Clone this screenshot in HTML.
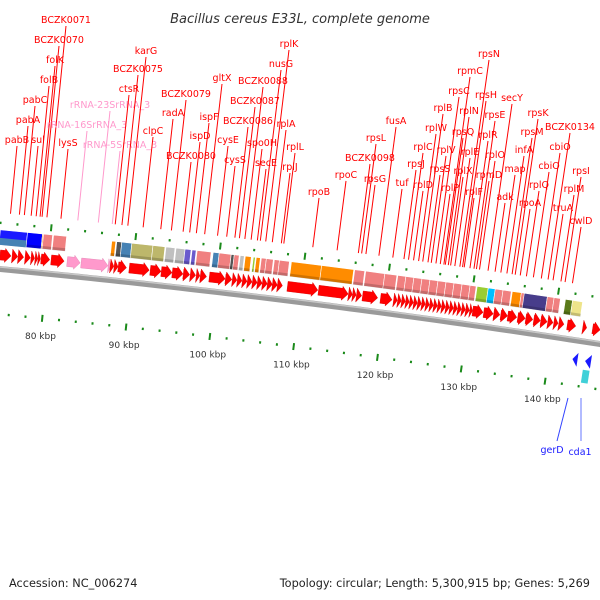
<!DOCTYPE html>
<html><head><meta charset="utf-8"><style>
html,body{margin:0;padding:0;background:#fff;}
svg{display:block;}
text{font-family:"DejaVu Sans","Liberation Sans",sans-serif;}
</style></head><body>
<svg id="map" width="600" height="600" viewBox="0 0 600 600" xmlns="http://www.w3.org/2000/svg">
<text x="300" y="23" text-anchor="middle" font-size="13" font-style="italic" fill="#333">Bacillus cereus E33L, complete genome</text>
<text x="9" y="587" font-size="11.3" fill="#222">Accession: NC_006274</text>
<text x="590" y="587" text-anchor="end" font-size="11.3" fill="#222">Topology: circular; Length: 5,300,915 bp; Genes: 5,269</text>
<g id="gBack"></g><g id="gTicks"></g><g id="gBoxes"></g><g id="gArrows"></g><g id="gRev"></g><g id="gLabels"></g>
<line x1="568" y1="398" x2="557" y2="441" stroke="#3344ff" stroke-width="1"/>
<line x1="581" y1="398" x2="581" y2="441" stroke="#6677ff" stroke-width="1"/>
<text x="552" y="453" text-anchor="middle" font-size="9.5" fill="#1a1aff">gerD</text>
<text x="580" y="455" text-anchor="middle" font-size="9.5" fill="#1a1aff">cda1</text>
</svg>
<script>
// ---- data (kbp) ----
const tickMajor = [70, 80, 90, 100, 110, 120, 130, 140];
const tickLabels = ["70 kbp","80 kbp","90 kbp","100 kbp","110 kbp","120 kbp","130 kbp","140 kbp"];
const tickMinor = [70,72,74,76,78,80,82,84,86,88,90,92,94,96,98,100,102,104,106,108,110,112,114,116,118,120,122,124,126,128,130,132,134,136,138,140,142,144,146];
const fwdStart = [74.30,75.73,76.44,77.27,77.98,78.46,78.81,79.17,80.36,82.26,83.92,87.13,87.37,87.84,88.32,89.63,92.12,93.43,94.73,96.04,96.87,97.58,98.06,99.13,101.04,101.86,102.45,103.05,103.64,104.24,104.83,105.42,106.02,106.61,107.21,108.40,112.08,115.64,116.12,116.59,117.31,119.44,120.99,121.47,121.94,122.42,122.89,123.37,123.84,124.32,124.79,125.27,125.74,126.22,126.69,127.17,127.64,128.12,128.59,129.07,129.54,130.02,130.37,131.68,132.87,133.70,134.53,135.72,136.67,137.62,138.45,139.28,140.00,140.59,141.60,143.44,144.60];
const fwdEnd   = [75.60,76.40,77.10,77.90,78.40,78.78,79.10,80.20,81.90,83.80,87.10,87.45,87.80,88.30,89.30,92.00,93.40,94.70,96.00,96.80,97.50,98.00,98.80,101.00,101.80,102.40,103.00,103.60,104.20,104.80,105.40,106.00,106.60,107.20,107.80,112.00,115.60,116.10,116.55,117.20,119.10,120.80,121.42,121.90,122.38,122.85,123.33,123.80,124.28,124.75,125.23,125.70,126.18,126.65,127.13,127.60,128.08,128.55,129.03,129.50,129.98,130.35,131.60,132.80,133.60,134.50,135.60,136.60,137.50,138.40,139.20,139.90,140.50,141.20,142.60,143.90,145.50];
const fwdColor = ["r","r","r","r","r","r","r","r","r","p","p","p"];
const boxStart = [74.06,77.27,79.05,79.17,80.36,87.25,87.84,88.43,89.62,92.12,93.66,94.85,95.92,96.75,97.35,99.25,99.96,101.38,101.74,102.45,103.05,104.00,104.35,104.95,105.54,106.49,107.09,108.51,112.08,116.00,117.30,119.56,121.10,122.05,123.00,123.95,124.90,125.85,126.80,127.75,128.70,129.65,130.49,131.80,132.63,133.55,134.65,135.72,136.07,138.80,139.60,140.94,141.78];
const boxEnd   = [77.27,79.05,79.17,80.24,81.90,87.72,88.43,89.62,92.12,93.54,94.73,95.92,96.63,97.23,99.01,99.96,101.38,101.74,102.33,102.93,103.76,104.24,104.83,105.54,106.37,107.09,108.27,112.08,115.88,117.18,119.56,120.99,122.05,123.00,123.95,124.90,125.85,126.80,127.75,128.70,129.65,130.37,131.80,132.63,133.55,134.53,135.72,136.19,138.80,139.60,140.35,141.78,142.97];
const boxColor = ["#1a1aff","#0000ff","#ff8c00","#f08080","#f08080","#ff8c00","#555555","#4682b4","#bdb76b","#bdb76b","#c0c0c0","#c0c0c0","#6a5acd","#6a5acd","#f08080","#4682b4","#f08080","#555555","#f08080","#c0c0c0","#ff8c00","#9acd32","#ff8c00","#f08080","#f08080","#f08080","#f08080","#ff8c00","#ff8c00","#f08080","#f08080","#f08080","#f08080","#f08080","#f08080","#f08080","#f08080","#f08080","#f08080","#f08080","#f08080","#f08080","#9acd32","#00bfff","#f08080","#f08080","#ff8c00","#f08080","#483d8b","#f08080","#f08080","#5a7a1a","#eee48a"];
const revStart = [142.8, 144.3];
const revEnd = [143.4, 145.0];
const cdsBoxStart = [144.2];
const cdsBoxEnd = [145.0];
const labelNames = ["pabB","sul","pabA","pabC","folB","folK","BCZK0070","BCZK0071","lysS","rRNA-16SrRNA_3","rRNA-23SrRNA_3","rRNA-5SrRNA_3","ctsR","BCZK0075","karG","clpC","BCZK0079","radA","BCZK0080","ispD","ispF","gltX","cysE","cysS","BCZK0086","BCZK0087","BCZK0088","spo0H","secE","nusG","rplK","rplA","rplL","rplJ","rpoB","rpoC","BCZK0098","rpsG","rpsL","fusA","tuf","rpsJ","rplD","rplC","rplW","rplB","rpsS","rplV","rplP","rpsC","rpsQ","rplX","rplN","rpmC","rplE","rpsN","rpsH","rplF","rplR","rpsE","rplO","rpmD","secY","adk","map","infA","rpsM","rpsK","rpoA","rplQ","cbiO","BCZK0134","cbiO","rpsI","rplM","truA","cwlD"];
const labelX = [17,38,28,35,49,55,59,66,68,87,110,120,129,138,146,153,186,173,191,200,209,222,228,235,248,255,263,262,266,281,289,286,295,290,319,346,370,375,376,396,402,416,423,423,436,443,440,446,450,459,463,463,469,470,470,489,486,474,488,495,495,489,512,505,515,524,532,538,530,539,549,570,560,581,574,563,581];
const labelY = [143,143,123,103,83,63,43,23,146,128,108,148,92,72,54,134,97,116,159,139,120,81,143,163,124,104,84,146,166,67,47,127,150,170,195,178,161,182,141,124,186,167,188,150,131,111,172,153,191,94,135,174,114,74,155,57,98,195,138,118,158,178,101,200,172,153,135,116,206,188,169,130,150,174,192,211,224];
// ---- geometry ----
function kx(k){ return 47 + (k - 80) * 8.42; }
function y0(s){ return 266 + 0.095*s + 5e-5*s*s; }
function sl(s){ return 0.095 + 1e-4*s; }
function P(s,d){ const m=sl(s), n=Math.sqrt(1+m*m); return [s + d*m/n, y0(s) - d/n]; }
function pts(a){ return a.map(p=>p[0].toFixed(2)+','+p[1].toFixed(2)).join(' '); }
const NS="http://www.w3.org/2000/svg";
function mk(tag, parent, attrs){ const e=document.createElementNS(NS,tag); for(const k in attrs) e.setAttribute(k,attrs[k]); parent.appendChild(e); return e; }
// backbone
const gB=document.getElementById('gBack');
let bb1=[],bb2=[];
for(let s=-60;s<=660;s+=10){ bb1.push(P(s,0)); bb2.push(P(s,-6)); }
let bbEl=mk('polygon',gB,{points:pts(bb1.concat(bb2.reverse())),fill:'#9a9a9a'});


let bl=[]; for(let s=-60;s<=660;s+=10) bl.push(P(s,-1));
let bbl=mk('polyline',gB,{points:pts(bl),fill:'none',stroke:'#c8c8c8','stroke-width':1.5});


// ticks
const gT=document.getElementById('gTicks');
tickMinor.forEach(k=>{
  const s=kx(k), major=tickMajor.indexOf(k)>=0, L=major?3.5:1.2;
  [[43],[-48]].forEach(([d])=>{
    const a=P(s,d-L), b=P(s,d+L);
    const t=mk('line',gT,{x1:a[0],y1:a[1],x2:b[0],y2:b[1],stroke:'#1a8a1a','stroke-width':2});
    
    
  });
});
tickMajor.forEach((k,i)=>{
  const p=P(kx(k),-66);
  const t=mk('text',gT,{x:p[0],y:p[1]+3,'text-anchor':'middle','font-size':'9','fill':'#333'});
  t.textContent=tickLabels[i];
  
  
});
// boxes
const gX=document.getElementById('gBoxes');
boxStart.forEach((k,i)=>{
  const s1=kx(k), s2=kx(boxEnd[i]);
  const poly=[P(s1,21),P(s2,21),P(s2,36),P(s1,36)];
  const r=mk('polygon',gX,{points:pts(poly),fill:boxColor[i],stroke:'#fff','stroke-width':0.6});
  
  
  const sh=mk('polygon',gX,{points:pts([P(s1,21),P(s2,21),P(s2,24),P(s1,24)]),fill:'#000','fill-opacity':0.18});
  
  
  if(i===0){
    const h=mk('polygon',gX,{points:pts([P(s1,21),P(s2,21),P(s2,28),P(s1,28)]),fill:'#4682b4'});
    
    
  }
});
// forward arrows
const gA=document.getElementById('gArrows');
function arrow(s1,s2,c,dir){
  const len=Math.abs(s2-s1), h=Math.min(6,len);
  if(dir>0){
    if(len<=6) return [P(s1,c+7),P(s2,c),P(s1,c-7)];
    return [P(s1,c+5),P(s2-h,c+5),P(s2-h,c+7),P(s2,c),P(s2-h,c-7),P(s2-h,c-5),P(s1,c-5)];
  }
  if(len<=6) return [P(s2,c+7),P(s1,c),P(s2,c-7)];
  return [P(s2,c+5),P(s1+h,c+5),P(s1+h,c+7),P(s1,c),P(s1+h,c-7),P(s1+h,c-5),P(s2,c-5)];
}
fwdStart.forEach((k,i)=>{
  const col=fwdColor[i]==='p'?'#ff99cc':'#ff0000';
  const a=mk('polygon',gA,{points:pts(arrow(kx(k),kx(fwdEnd[i]),11,1)),fill:col,stroke:fwdColor[i]==='p'?'#e080b0':'#d80000','stroke-width':0.4});
  
  
});
// reverse arrows
const gR=document.getElementById('gRev');
revStart.forEach((k,i)=>{
  const a=mk('polygon',gR,{points:pts(arrow(kx(k),kx(revEnd[i]),-22,-1)),fill:'#1a1aff'});
  
  
});
cdsBoxStart.forEach((k,i)=>{
  const s1=kx(k), s2=kx(cdsBoxEnd[i]);
  const b=mk('polygon',gR,{points:pts([P(s1,-31),P(s2,-31),P(s2,-44),P(s1,-44)]),fill:'#40d0d8'});
  
  
});
// labels
const gL=document.getElementById('gLabels');
labelNames.forEach((nm,i)=>{
  const pink=nm.indexOf('rRNA')===0, col=pink?'#ff99cc':'#ff0000';
  const tx=labelX[i], ty=labelY[i]+3;
  let xb=tx, yb=ty;
  for(let it=0;it<5;it++){ const m=sl(xb), n=Math.sqrt(1+m*m); const sb=xb-53*m/n; yb=y0(sb)-53/n; xb=tx-m*(yb-ty); }
  const ln=mk('line',gL,{x1:tx,y1:ty,x2:xb.toFixed(2),y2:yb.toFixed(2),stroke:col,'stroke-width':1});
  
  
  const t=mk('text',gL,{x:tx,y:labelY[i],'text-anchor':'middle','font-size':'9.5',fill:col});
  t.textContent=nm;
  
  
});
</script>
</body></html>
